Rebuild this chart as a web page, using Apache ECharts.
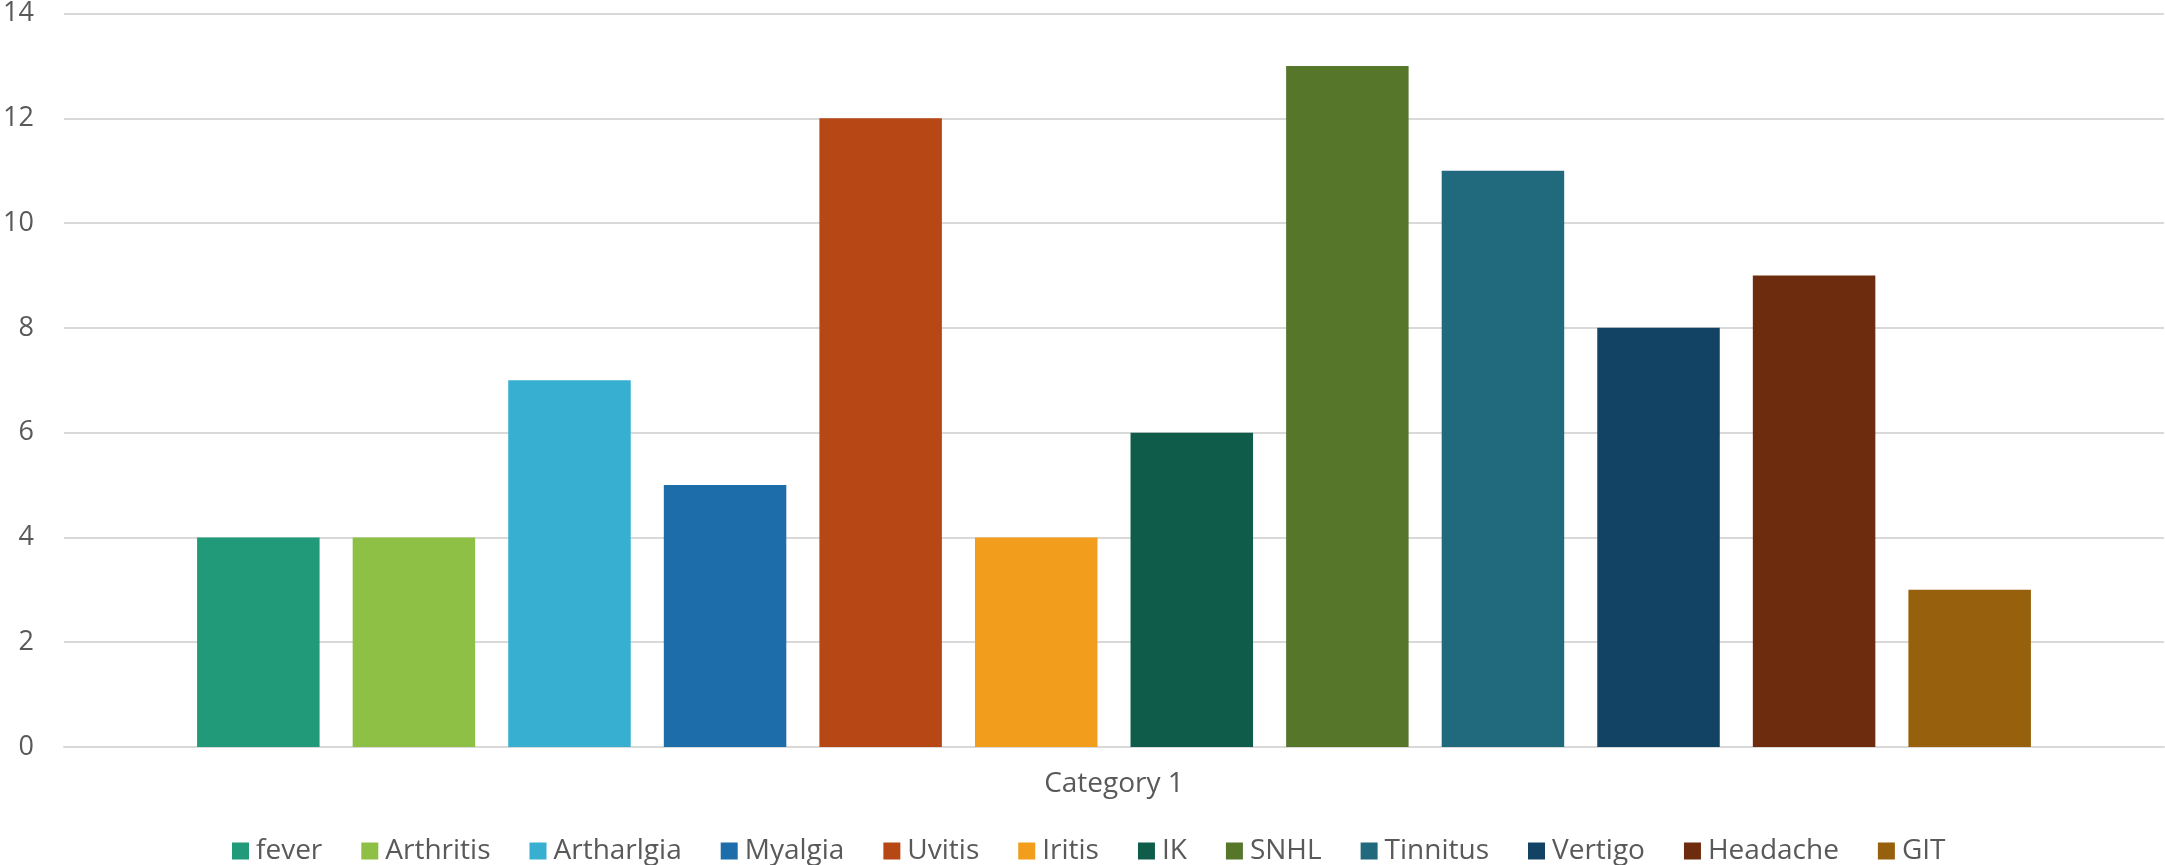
<!DOCTYPE html>
<html>
<head>
<meta charset="utf-8">
<script src="https://cdn.jsdelivr.net/npm/echarts@6/dist/echarts.min.js"></script>
<style>
html,body{margin:0;padding:0;background:#fff;}
#chart{width:2165px;height:865px;}
</style>
</head>
<body>
<div id="chart"></div>
<script>
const categories = ['Category 1'];
const seriesNames = ['fever','Arthritis','Artharlgia','Myalgia','Uvitis','Iritis','IK','SNHL','Tinnitus','Vertigo','Headache','GIT'];
const seriesValues = [4, 4, 7, 5, 12, 4, 6, 13, 11, 8, 9, 3];
const seriesColors = ['#209A78','#8DC045','#37AFD1','#1D6DAB','#B84716','#F29D1B','#0F5C4A','#56772A','#216A7E','#124364','#6E2C0F','#97600C'];
const yTicks = [0, 2, 4, 6, 8, 10, 12, 14];

const FONT = "'Open Sans', 'Liberation Sans', sans-serif";
const TEXT = '#595959';

const chart = echarts.init(document.getElementById('chart'), null, {renderer: 'canvas'});
chart.setOption({
  animation: false,
  backgroundColor: '#ffffff',
  textStyle: {fontFamily: FONT},
  grid: {left: 64, right: 1, top: 13, bottom: 118, containLabel: false},
  legend: {
    data: seriesNames,
    top: 837,
    left: 232,
    padding: 0,
    icon: 'rect',
    itemWidth: 17,
    itemHeight: 17,
    itemGap: 39,
    textStyle: {fontFamily: FONT, fontSize: 28, color: TEXT, padding: [0, 0, 0, 2]},
    selectedMode: false
  },
  xAxis: {
    type: 'category',
    data: categories,
    axisLine: {show: true, lineStyle: {color: '#D9D9D9', width: 2}},
    axisTick: {show: false},
    axisLabel: {fontFamily: FONT, fontSize: 28, color: TEXT, margin: 23}
  },
  yAxis: {
    type: 'value',
    min: yTicks[0],
    max: yTicks[yTicks.length - 1],
    interval: 2,
    axisLine: {show: false},
    axisTick: {show: false},
    splitLine: {lineStyle: {color: '#D9D9D9', width: 2}},
    axisLabel: {fontFamily: FONT, fontSize: 27, color: TEXT, margin: 30}
  },
  series: seriesNames.map((name, i) => ({
    name: name,
    type: 'bar',
    data: [seriesValues[i]],
    barWidth: 122.5,
    barGap: '27%',
    itemStyle: {color: seriesColors[i]}
  }))
});
</script>
</body>
</html>
